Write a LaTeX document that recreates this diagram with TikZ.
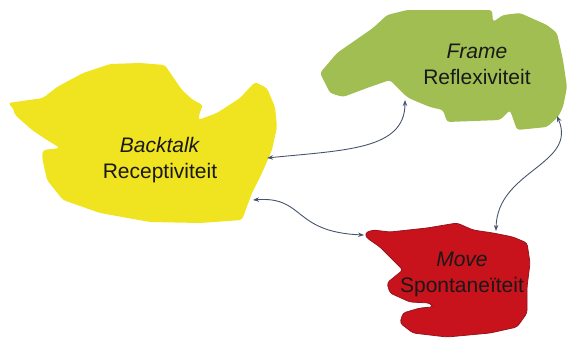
\documentclass[tikz,border=0pt]{standalone}
\usepackage{fontspec}
\setmainfont{Liberation Sans}
\usetikzlibrary{arrows.meta}
\definecolor{blobyellow}{RGB}{240,228,32}
\definecolor{blobgreen}{RGB}{160,190,82}
\definecolor{blobred}{RGB}{200,18,28}
\definecolor{blobredline}{RGB}{150,22,32}
\definecolor{linkcol}{RGB}{72,84,110}
\begin{document}
\begin{tikzpicture}[x=1pt,y=-1pt,
  blob/.style={rounded corners=3pt},
  label/.style={align=center,font=\fontsize{21}{26}\selectfont,text=black!90},
  link/.style={draw=linkcol,line width=0.9pt,{Stealth[length=6pt,width=4.5pt]}-{Stealth[length=6pt,width=4.5pt]}}]
\useasboundingbox (0,0) rectangle (568,341);

% yellow region
\fill[blobyellow,blob] (8,103) -- (43,98) -- (57,87) -- (83,73) -- (110,64) -- (140,63)
  -- (165,65) -- (173,77) -- (182,90) -- (193,100) -- (203,105) -- (200,112) -- (198,120)
  -- (217,113) -- (240,98) -- (255,82) -- (267,88) -- (275,107) -- (277,127) -- (272,150)
  -- (262,173) -- (252,193) -- (242,220) -- (200,223) -- (150,222) -- (100,213)
  -- (63,200) -- (47,180) -- (42,157) -- (43,150) -- (60,148) -- (47,140) -- (32,130)
  -- (15,115) -- (13,108) -- cycle;

% green region
\fill[blobgreen,blob] (387,15) -- (407,10) -- (492,10) -- (493,22) -- (503,15) -- (520,13)
  -- (547,25) -- (557,33) -- (563,60) -- (567,87) -- (563,107) -- (558,117) -- (547,127)
  -- (517,130) -- (510,110) -- (500,120) -- (447,122) -- (443,110) -- (430,107)
  -- (413,100) -- (407,97) -- (400,90) -- (390,80) -- (367,88) -- (343,97) -- (330,93)
  -- (320,73) -- (337,53) -- (360,37) -- (373,28) -- cycle;

% red region
\filldraw[fill=blobred,draw=blobredline,line width=0.8pt,blob] (365,233) -- (373,230)
  -- (390,232) -- (427,228) -- (457,223) -- (473,230) -- (493,233) -- (513,237)
  -- (527,243) -- (530,263) -- (527,287) -- (527,313) -- (517,327) -- (490,333)
  -- (447,337) -- (413,333) -- (400,323) -- (403,313) -- (420,308) -- (433,307)
  -- (430,303) -- (410,302) -- (390,293) -- (387,283) -- (393,278) -- (403,270)
  -- (393,260) -- (380,247) -- (367,238) -- cycle;

% labels
\node[label] (backtalk) at (160,160) {\textit{Backtalk}\\Receptiviteit};
\node[label] (frame) at (477,64) {\textit{Frame}\\Reflexiviteit};
\node[label] (move) at (462,274) {\textit{Move}\\Spontaneïteit};

% link end points on the region borders
\coordinate (yR1) at (267,158);
\coordinate (yR2) at (253,200);
\coordinate (gB) at (405,100);
\coordinate (gR) at (557,116);
\coordinate (rL) at (364,235);
\coordinate (rT) at (496,231);

% links
\draw[link] (yR1) .. controls (345,150) and (405,150) .. (gB);
\draw[link] (yR2) .. controls (305,196) and (292,232) .. (rL);
\draw[link] (gR) .. controls (578,165) and (497,170) .. (rT);
\end{tikzpicture}
\end{document}
